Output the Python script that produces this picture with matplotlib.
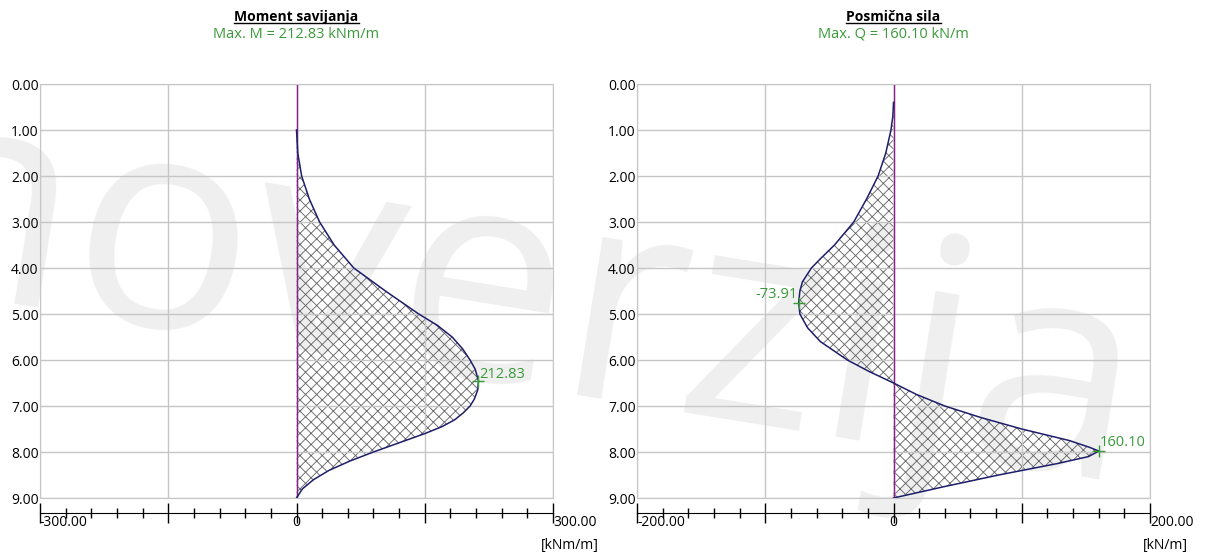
import matplotlib
matplotlib.use('Agg')
import matplotlib.pyplot as plt
from matplotlib.lines import Line2D
from matplotlib.ticker import MultipleLocator, FormatStrFormatter

plt.rcParams['font.family'] = ['Open Sans', 'DejaVu Sans']
plt.rcParams['hatch.linewidth'] = 0.65

# dubina [m] i moment savijanja [kNm/m]
z_moment = [1.0, 1.5, 2.0, 2.5, 3.0, 3.5, 4.0, 4.5, 5.0, 5.25, 5.5, 5.75, 6.0,
            6.2, 6.45, 6.65, 6.85, 7.0, 7.15, 7.3, 7.45, 7.6, 7.8, 8.0, 8.2,
            8.4, 8.6, 8.8, 9.0]
moment = [0.0, 1.5, 6.0, 15.0, 27.0, 44.0, 67.0, 104.0, 143.0, 165.0, 182.0,
          194.0, 203.0, 209.0, 212.83, 212.0, 208.0, 203.0, 195.0, 185.0, 170.0,
          150.0, 120.0, 90.0, 62.0, 38.0, 20.0, 7.0, 0.0]

# dubina [m] i posmicna sila [kN/m]
z_shear = [0.4, 0.7, 1.0, 1.5, 2.0, 2.5, 3.0, 3.5, 3.8, 4.0, 4.3, 4.5, 4.75,
           5.0, 5.3, 5.6, 6.0, 6.25, 6.5, 6.75, 7.0, 7.25, 7.5, 7.75, 7.9,
           7.98, 8.1, 8.25, 8.5, 8.75, 9.0]
shear = [0.0, -0.5, -2.0, -6.0, -12.0, -21.0, -31.0, -46.0, -57.0, -64.0, -71.0,
         -73.0, -73.91, -73.0, -67.0, -57.0, -36.0, -19.0, 0.0, 18.0, 40.0, 68.0,
         100.0, 137.0, 153.0, 160.10, 152.0, 128.0, 82.0, 40.0, 0.0]

m_max, z_m_max = 212.83, 6.45
q_max, z_q_max = 160.10, 7.98
q_min, z_q_min = -73.91, 4.75

depth_ticks = [0, 1, 2, 3, 4, 5, 6, 7, 8, 9]

green = '#3a9a3a'
grid_col = '#c6c6c6'
curve_col = '#1e1e6a'
zero_col = '#86208a'
hatch_col = '#6a6a6a'

fig = plt.figure(figsize=(12.06, 5.53), dpi=100)
W, H = 1206.0, 553.0

# vodeni zig u pozadini
fig.text(0.245, 0.505, 'demoverzija', rotation=-9.2, rotation_mode='anchor',
         ha='center', va='center', fontsize=215, color='#efefef', zorder=-1)


def panel(x0, x1, z, vals, lim, major, minor, title, subtitle, unit, unit_dx):
    ax = fig.add_axes([x0 / W, 1 - 498 / H, (x1 - x0) / W, 414 / H])
    ax.set_facecolor('none')
    ax.set_xlim(-lim, lim)
    ax.set_ylim(9, 0)
    ax.set_xticks([-lim, -lim + major, 0, lim - major, lim])
    ax.set_yticks(depth_ticks)
    ax.yaxis.set_major_formatter(FormatStrFormatter('%.2f'))
    ax.grid(True, color=grid_col, lw=1)
    ax.tick_params(axis='x', length=0, labelbottom=False)
    ax.tick_params(axis='y', length=0, pad=1, labelsize=10)
    for s in ax.spines.values():
        s.set_color(grid_col)

    ax.fill_betweenx(z, 0, vals, facecolor='none', edgecolor=hatch_col,
                     hatch='xxx', linewidth=0)
    ax.axvline(0, color=zero_col, lw=1)
    ax.plot(vals, z, color=curve_col, lw=1.1)

    # skala ispod dijagrama
    sec = ax.secondary_xaxis(-15 / 414)
    sec.set_xticks([-lim, -lim + major, 0, lim - major, lim])
    sec.xaxis.set_minor_locator(MultipleLocator(minor))
    sec.tick_params(which='major', direction='inout', length=15, width=1,
                    labelbottom=False, color='black')
    sec.tick_params(which='minor', direction='inout', length=7, width=1,
                    color='black')
    sec.spines['bottom'].set_color('black')

    for v, lab, ha in [(-lim, f'{-lim:.2f}', 'left'), (0, '0', 'center'),
                       (lim, f'{lim:.2f}', 'left')]:
        ax.annotate(lab, xy=(v, 0), xycoords=('data', 'axes fraction'),
                    xytext=(0, -24), textcoords='offset pixels', ha=ha,
                    va='center', fontsize=10, annotation_clip=False)
    ax.annotate(unit, xy=(1, 0), xycoords='axes fraction', xytext=(unit_dx, -48),
                textcoords='offset pixels', ha='left', va='center', fontsize=10,
                annotation_clip=False)

    xc = (x0 + x1) / 2 / W
    t = fig.text(xc, 1 - 17 / H, title, ha='center', va='center',
                 fontsize=10, fontweight='bold')
    fig.text(xc, 1 - 34 / H, subtitle, ha='center', va='center',
             fontsize=10.5, color=green)
    return ax, t


ax1, t1 = panel(40, 553, z_moment, moment, 300, 150, 30, 'Moment savijanja',
                f'Max. M = {m_max:.2f} kNm/m', '[kNm/m]', -12)
ax1.plot(m_max, z_m_max, '+', color=green, ms=9, mew=1)
ax1.annotate(f'{m_max:.2f}', xy=(m_max, z_m_max), xytext=(1, -1),
             textcoords='offset pixels', ha='left', va='bottom', color=green,
             fontsize=10.5)

ax2, t2 = panel(637, 1150, z_shear, shear, 200, 100, 20, 'Posmična sila',
                f'Max. Q = {q_max:.2f} kN/m', '[kN/m]', -7)
ax2.plot([q_min, q_max], [z_q_min, z_q_max], '+', color=green, ms=9, mew=1)
ax2.annotate(f'{q_min:.2f}', xy=(q_min, z_q_min), xytext=(-1, 1),
             textcoords='offset pixels', ha='right', va='bottom', color=green,
             fontsize=10.5)
ax2.annotate(f'{q_max:.2f}', xy=(q_max, z_q_max), xytext=(1, 1),
             textcoords='offset pixels', ha='left', va='bottom', color=green,
             fontsize=10.5)

# podcrtani naslovi
fig.canvas.draw()
inv = fig.transFigure.inverted()
for t in (t1, t2):
    bb = t.get_window_extent()
    (a, b), (c, d) = inv.transform([(bb.x0, bb.y0 + 1), (bb.x1, bb.y0 + 1)])
    fig.add_artist(Line2D([a, c], [b, d], color='black', lw=1))

fig.savefig('out.png', dpi=100)
